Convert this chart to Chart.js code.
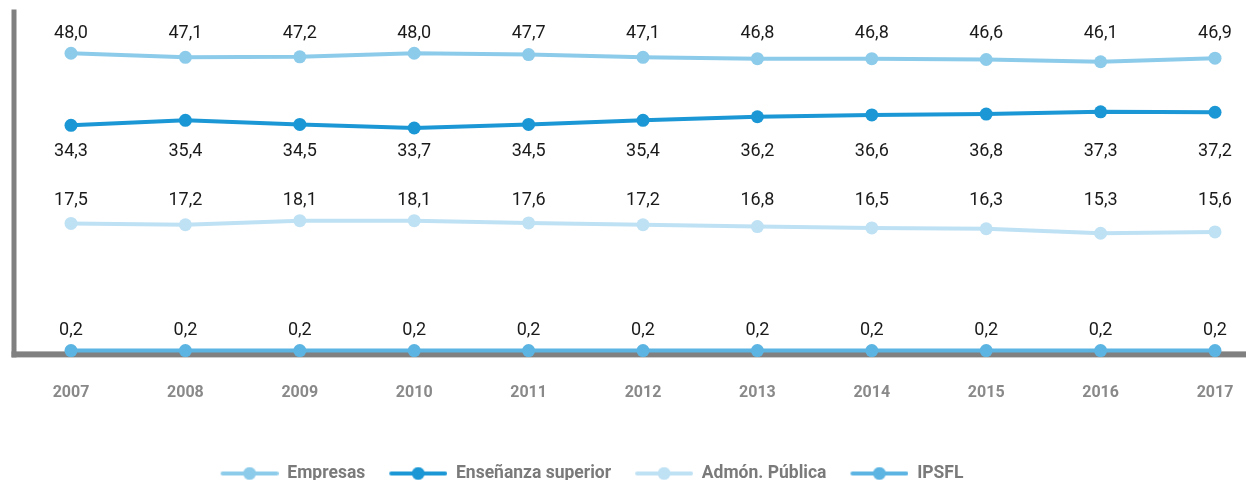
<!DOCTYPE html>
<html lang="es">
<head>
<meta charset="utf-8">
<title>Distribución del gasto en I+D por sector</title>
<script src="https://cdn.jsdelivr.net/npm/chart.js@4.4.1/dist/chart.umd.min.js"></script>
<style>
  html, body { margin: 0; padding: 0; background: #fff; }
  #wrap { width: 1246px; height: 480px; }
</style>
</head>
<body>
<div id="wrap"><canvas id="chart" width="1246" height="480"></canvas></div>
<script>
// datos
const years = ['2007', '2008', '2009', '2010', '2011', '2012', '2013', '2014', '2015', '2016', '2017'];
const empresas = [48.0, 47.1, 47.2, 48.0, 47.7, 47.1, 46.8, 46.8, 46.6, 46.1, 46.9];
const ensenanza = [34.3, 35.4, 34.5, 33.7, 34.5, 35.4, 36.2, 36.6, 36.8, 37.3, 37.2];
const admon = [17.5, 17.2, 18.1, 18.1, 17.6, 17.2, 16.8, 16.5, 16.3, 15.3, 15.6];
const ipsfl = [0.2, 0.2, 0.2, 0.2, 0.2, 0.2, 0.2, 0.2, 0.2, 0.2, 0.2];
const seriesNames = ['Empresas', 'Enseñanza superior', 'Admón. Pública', 'IPSFL'];

const colors = ['#8dcbea', '#1b97d5', '#bfe1f4', '#5cb4e2'];
const axisGray = '#808080';

// each line sits on its own hidden axis (same px per unit, different baseline)
const span = 76.44;
const axisMins = [-18.8, -16.44, -11.37, -0.31];

// legend swatch: line with a dot, with blank room on the left as item spacing
function swatch(color) {
  const c = document.createElement('canvas');
  c.width = 68; c.height = 14;
  const g = c.getContext('2d');
  g.strokeStyle = color;
  g.lineWidth = 4;
  g.lineCap = 'round';
  g.beginPath(); g.moveTo(12, 7); g.lineTo(66, 7); g.stroke();
  g.fillStyle = color;
  g.beginPath(); g.arc(39, 7, 6.5, 0, Math.PI * 2); g.fill();
  return c;
}
const swatches = colors.map(swatch);

function makeSet(i, data, side) {
  return {
    label: seriesNames[i],
    data: data,
    yAxisID: 'y' + i,
    borderColor: colors[i],
    backgroundColor: colors[i],
    pointBackgroundColor: colors[i],
    borderWidth: 4,
    pointRadius: 6.5,
    pointBorderWidth: 0,
    pointHoverRadius: 6.5,
    tension: 0,
    fill: false,
    clip: false,
    labelSide: side
  };
}

// L-shaped gray frame
const frame = {
  id: 'frame',
  beforeDatasetsDraw(chart) {
    const { ctx, chartArea } = chart;
    ctx.save();
    ctx.fillStyle = axisGray;
    const x0 = chartArea.left - 59.5;
    ctx.fillRect(x0, chartArea.top - 0.5, 5, chartArea.bottom - chartArea.top + 5);
    ctx.fillRect(x0, chartArea.bottom - 1.5, chart.width - x0, 6);
    ctx.restore();
  }
};

// value labels: one row per series, above the top of the line or below its bottom
const valueLabels = {
  id: 'valueLabels',
  afterDatasetsDraw(chart) {
    const ctx = chart.ctx;
    ctx.save();
    ctx.font = '18px Roboto';
    ctx.fillStyle = '#1a1a1a';
    ctx.textAlign = 'center';
    ctx.textBaseline = 'middle';
    chart.data.datasets.forEach((ds, i) => {
      const meta = chart.getDatasetMeta(i);
      const ys = chart.scales[meta.yAxisID];
      const rowY = ds.labelSide === 'below'
        ? ys.getPixelForValue(Math.min(...ds.data)) + 24
        : ys.getPixelForValue(Math.max(...ds.data)) - 20;
      meta.data.forEach((pt, j) => {
        ctx.fillText(ds.data[j].toFixed(1).replace('.', ','), pt.x, rowY);
      });
    });
    ctx.restore();
  }
};

// move the legend to where it sits in the original
const legendShift = {
  id: 'legendShift',
  afterLayout(chart) {
    const lg = chart.legend;
    const dx = 587 - (lg.left + lg.right) / 2;
    const dy = 471.5 - (lg.top + lg.bottom) / 2;
    lg.left += dx; lg.right += dx;
    lg.top += dy; lg.bottom += dy;
  }
};

const yScales = {};
axisMins.forEach((m, i) => {
  yScales['y' + i] = { display: false, min: m, max: m + span };
});

new Chart(document.getElementById('chart'), {
  type: 'line',
  data: {
    labels: years,
    datasets: [
      makeSet(0, empresas, 'above'),
      makeSet(1, ensenanza, 'below'),
      makeSet(2, admon, 'above'),
      makeSet(3, ipsfl, 'above')
    ]
  },
  options: {
    responsive: false,
    animation: false,
    layout: { autoPadding: false, padding: { left: 71, right: 31, top: 10, bottom: 4.8 } },
    scales: Object.assign({
      x: {
        offset: false,
        grid: { display: false, drawTicks: false },
        border: { display: false },
        ticks: {
          padding: 10,
          color: '#898989',
          autoSkip: false,
          maxRotation: 0,
          font: { family: 'Roboto', size: 16, weight: 'bold', lineHeight: 3.8 }
        }
      }
    }, yScales),
    plugins: {
      tooltip: { enabled: false },
      legend: {
        position: 'bottom',
        labels: {
          usePointStyle: true,
          pointStyleWidth: 68,
          padding: 14,
          color: '#7a7a7a',
          font: { family: 'Roboto', size: 17.5, weight: 'bold' },
          generateLabels(chart) {
            return chart.data.datasets.map((ds, i) => ({
              text: ds.label,
              pointStyle: swatches[i],
              fillStyle: colors[i],
              strokeStyle: colors[i],
              lineWidth: 0,
              fontColor: '#7a7a7a',
              hidden: false,
              datasetIndex: i
            }));
          }
        }
      }
    }
  },
  plugins: [frame, valueLabels, legendShift]
});
</script>
</body>
</html>
